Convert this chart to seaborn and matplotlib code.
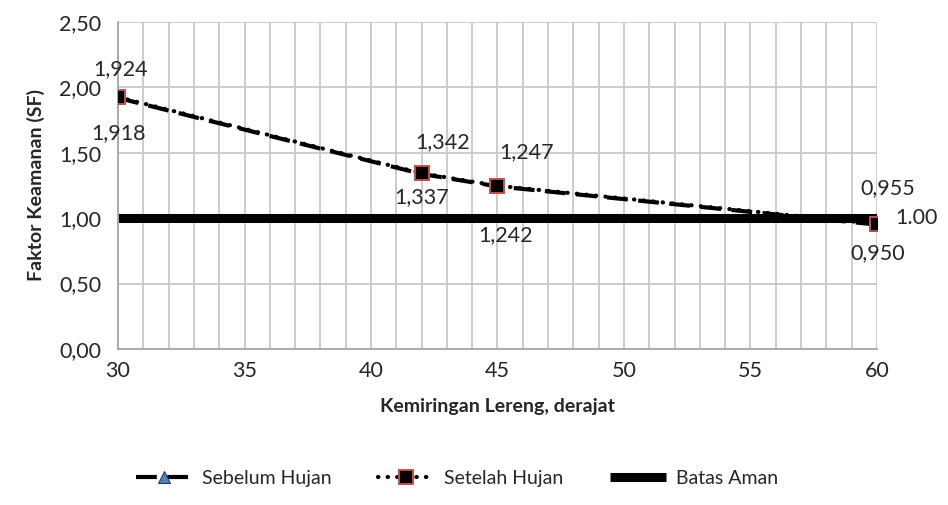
import matplotlib
matplotlib.use("Agg")
import matplotlib.pyplot as plt
import pandas as pd
import seaborn as sns
from matplotlib.ticker import MultipleLocator, FuncFormatter

kemiringan = [30, 42, 45, 60]
sebelum_hujan = [1.918, 1.337, 1.242, 0.950]
setelah_hujan = [1.924, 1.342, 1.247, 0.955]
batas_aman = [1.00, 1.00, 1.00, 1.00]
label_sebelum = ["1,918", "1,337", "1,242", "0,950"]
label_setelah = ["1,924", "1,342", "1,247", "0,955"]

sns.set_style("white")
plt.rcParams["font.family"] = ["Lato", "DejaVu Sans"]

df = pd.DataFrame({"x": kemiringan, "sebelum": sebelum_hujan,
                   "setelah": setelah_hujan, "batas": batas_aman})

fig = plt.figure(figsize=(9.48, 5.05), dpi=100)
ax = fig.add_axes([0.1245, 0.309, 0.8005, 0.648])

sns.lineplot(data=df, x="x", y="batas", ax=ax, color="black", linewidth=6.5,
             solid_capstyle="butt", label="Batas Aman", zorder=2)
sns.lineplot(data=df, x="x", y="sebelum", ax=ax, color="black", linewidth=3.0,
             linestyle=(0, (5, 2.5)), marker="^", markersize=8,
             markerfacecolor="#4f81bd", markeredgecolor="#1f3864",
             label="Sebelum Hujan", zorder=3)
sns.lineplot(data=df, x="x", y="setelah", ax=ax, color="black", linewidth=3.0,
             linestyle=(0, (0.1, 2.2)), dash_capstyle="round", marker="s",
             markersize=10, markerfacecolor="black", markeredgecolor="#c0504d",
             markeredgewidth=1.4, label="Setelah Hujan", zorder=4)

ax.set_xlim(30, 60)
ax.set_ylim(0, 2.5)
ax.xaxis.set_major_locator(MultipleLocator(5))
ax.xaxis.set_minor_locator(MultipleLocator(1))
ax.yaxis.set_major_locator(MultipleLocator(0.5))
ax.yaxis.set_major_formatter(FuncFormatter(lambda v, p: f"{v:.2f}".replace(".", ",")))
ax.grid(which="both", axis="x", color="#c8c8c8", linewidth=1.3)
ax.grid(which="major", axis="y", color="#c8c8c8", linewidth=1.3)
ax.set_axisbelow(True)
for side in ["top", "right"]:
    ax.spines[side].set_visible(False)
for side in ["left", "bottom"]:
    ax.spines[side].set_color("#a6a6a6")
    ax.spines[side].set_linewidth(1.3)
ax.tick_params(axis="x", labelsize=15.5, length=0, pad=9)
ax.tick_params(axis="y", labelsize=15.5, length=0, pad=12)

ax.set_xlabel("Kemiringan Lereng, derajat", fontsize=14, fontweight="bold", labelpad=12)
ax.set_ylabel("Faktor Keamanan (SF)", fontsize=14, fontweight="bold", labelpad=10)

off_sebelum = [(1, -35), (0, -23), (8, -49), (1, -28)]
off_setelah = [(3, 28), (21, 31), (29, 34), (11, 36)]
for xv, yv, t, o in zip(kemiringan, sebelum_hujan, label_sebelum, off_sebelum):
    ax.annotate(t, (xv, yv), xytext=o, textcoords="offset pixels",
                ha="center", va="center", fontsize=15.5)
for xv, yv, t, o in zip(kemiringan, setelah_hujan, label_setelah, off_setelah):
    ax.annotate(t, (xv, yv), xytext=o, textcoords="offset pixels",
                ha="center", va="center", fontsize=15.5)
ax.annotate("1.00", (kemiringan[-1], batas_aman[-1]), xytext=(18, 0),
            textcoords="offset pixels", ha="left", va="center",
            fontsize=15.5, annotation_clip=False)

handles, labels = ax.get_legend_handles_labels()
ax.get_legend().remove()
order = [labels.index(n) for n in ["Sebelum Hujan", "Setelah Hujan", "Batas Aman"]]
fig.legend([handles[i] for i in order], [labels[i] for i in order],
           loc="center", bbox_to_anchor=(0.482, 0.053), ncol=3, frameon=False,
           fontsize=14, handlelength=2.9, columnspacing=2.4, handletextpad=0.5)

fig.savefig("out.png", dpi=100)
